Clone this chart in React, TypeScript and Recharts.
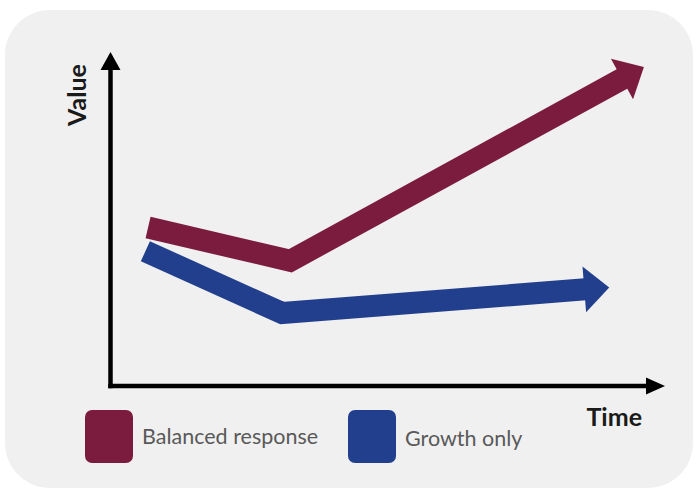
import React from 'react';
import { LineChart, Line, XAxis, YAxis, Legend } from 'recharts';

// Conceptual trajectories: time (0-100) against value (0-100)
const balancedTime = [7, 33.5, 95.5];
const balancedValue = [50, 39.5, 97];
const growthTime = [6.5, 32, 88.5];
const growthValue = [42.5, 23, 30.5];

const seriesNames = ['Balanced response', 'Growth only'];
const seriesColors = ['#7b1c3f', '#213f8c'];
const axisTitles = { x: 'Time', y: 'Value' };

const toRows = (ts: number[], vs: number[]) => ts.map((t, i) => ({ t, v: vs[i] }));
const balancedRows = toRows(balancedTime, balancedValue);
const growthRows = toRows(growthTime, growthValue);

const W = 698;
const H = 495;
const HEAD_LEN = 24;
const HEAD_W = 46;

// Arrow head drawn at the last point of a series, aligned with its final segment
function makeArrowDot(color: string) {
  return (props: any) => {
    const { cx, cy, index, points } = props;
    const key = `arrow-${index}`;
    if (!points || index !== points.length - 1 || index === 0) return <g key={key} />;
    const prev = points[index - 1];
    const dx = cx - prev.x;
    const dy = cy - prev.y;
    const len = Math.hypot(dx, dy) || 1;
    const ux = dx / len;
    const uy = dy / len;
    const nx = -uy;
    const ny = ux;
    const h = HEAD_W / 2;
    const bx = cx - ux;
    const by = cy - uy;
    const pts = [
      [bx + nx * h, by + ny * h],
      [cx + ux * HEAD_LEN, cy + uy * HEAD_LEN],
      [bx - nx * h, by - ny * h],
    ];
    return <polygon key={key} points={pts.map((p) => p.join(',')).join(' ')} fill={color} />;
  };
}

const XAxisEnd = (props: any) => {
  const { x, y, width } = props.viewBox;
  const ex = x + width;
  return (
    <g>
      <polygon points={`${ex - 1},${y - 8.5} ${ex + 18},${y} ${ex - 1},${y + 8.5}`} fill="#000" />
      <text
        x={ex - 5}
        y={y + 40}
        textAnchor="end"
        fontFamily="Lato"
        fontWeight={700}
        fontSize={25}
        fill="#1a1a1a"
      >
        {axisTitles.x}
      </text>
    </g>
  );
};

const YAxisEnd = (props: any) => {
  const { x, y, width } = props.viewBox;
  const ax = x + width;
  const tx = ax - 35;
  const ty = y + 26;
  return (
    <g>
      <polygon points={`${ax - 10},${y + 1} ${ax},${y - 17} ${ax + 10},${y + 1}`} fill="#000" />
      <text
        x={tx}
        y={ty}
        transform={`rotate(-90 ${tx} ${ty})`}
        textAnchor="middle"
        dominantBaseline="central"
        fontFamily="Lato"
        fontWeight={700}
        fontSize={25}
        fill="#1a1a1a"
      >
        {axisTitles.y}
      </text>
    </g>
  );
};

const LegendContent = (props: any) => {
  const payload = props.payload || [];
  return (
    <div style={{ position: 'relative', width: 460, height: 60 }}>
      {payload.map((item: any, i: number) => (
        <div
          key={i}
          style={{ position: 'absolute', left: i * 263, top: 0, display: 'flex', alignItems: 'center' }}
        >
          <div style={{ width: 48, height: 53, borderRadius: 7, background: item.color }} />
          <span
            style={{
              marginLeft: 9,
              marginTop: -2 + i * 4,
              fontFamily: 'Lato',
              fontSize: 21.5,
              color: '#595959',
              whiteSpace: 'nowrap',
            }}
          >
            {item.value}
          </span>
        </div>
      ))}
    </div>
  );
};

const axisLineStyle = { stroke: '#000', strokeWidth: 4.5, strokeLinecap: 'square' as const };

export default function App() {
  return (
    <div style={{ position: 'absolute', left: 0, top: 0, width: W, height: H, background: '#fff' }}>
      <div
        style={{
          position: 'absolute',
          left: 5,
          top: 10,
          width: 688,
          height: 478,
          borderRadius: 45,
          background: '#f0f0f0',
        }}
      />
      <div style={{ position: 'absolute', left: 0, top: 0 }}>
        <LineChart width={W} height={H} margin={{ top: 69, right: 51, bottom: 108, left: 109.5 }}>
          <XAxis
            xAxisId={0}
            type="number"
            dataKey="t"
            domain={[0, 100]}
            height={1}
            tick={false}
            tickLine={false}
            axisLine={axisLineStyle}
            label={{ content: XAxisEnd }}
          />
          <YAxis
            yAxisId={0}
            type="number"
            domain={[0, 100]}
            width={1}
            tick={false}
            tickLine={false}
            axisLine={axisLineStyle}
            label={{ content: YAxisEnd }}
          />
          <Line
            data={balancedRows}
            dataKey="v"
            name={seriesNames[0]}
            type="linear"
            stroke={seriesColors[0]}
            strokeWidth={22}
            strokeLinejoin="miter"
            strokeLinecap="butt"
            dot={makeArrowDot(seriesColors[0])}
            activeDot={false}
            isAnimationActive={false}
          />
          <Line
            data={growthRows}
            dataKey="v"
            name={seriesNames[1]}
            type="linear"
            stroke={seriesColors[1]}
            strokeWidth={22}
            strokeLinejoin="miter"
            strokeLinecap="butt"
            dot={makeArrowDot(seriesColors[1])}
            activeDot={false}
            isAnimationActive={false}
          />
          <Legend
            layout="horizontal"
            verticalAlign="middle"
            align="center"
            content={LegendContent}
            wrapperStyle={{ left: 85, top: 410, width: 460, height: 60 }}
          />
        </LineChart>
      </div>
    </div>
  );
}
